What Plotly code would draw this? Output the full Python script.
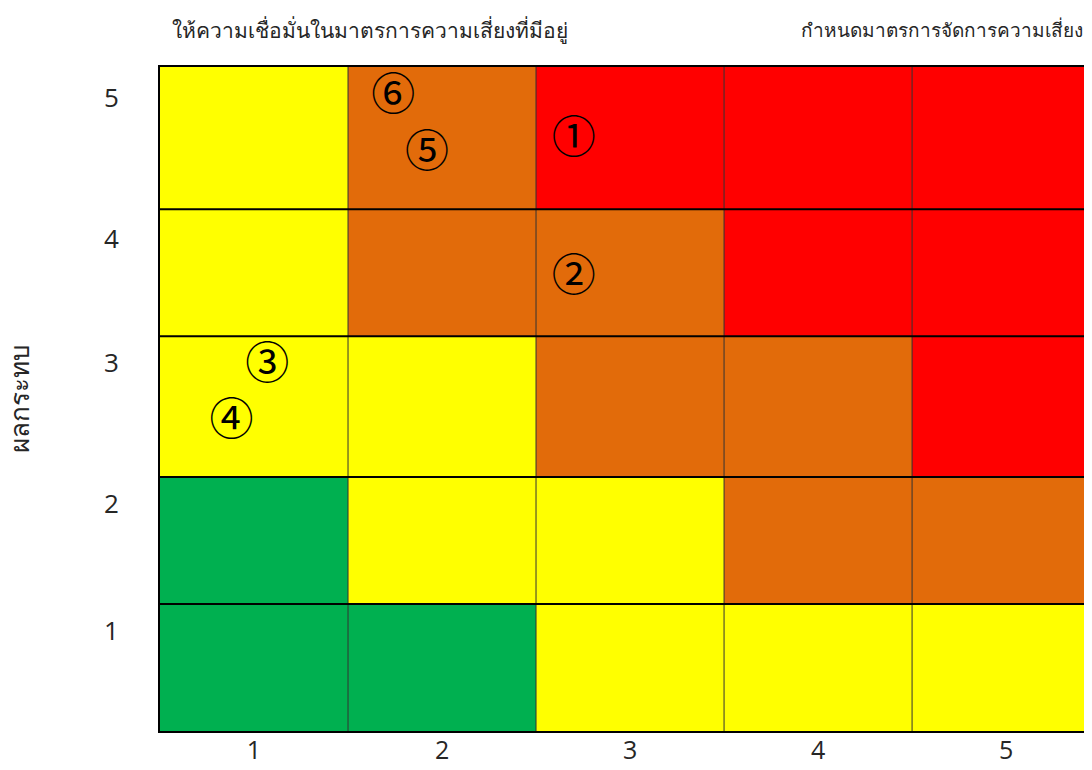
import plotly.graph_objects as go

# ---- data ----
x_edges = [0.5, 1.5, 2.5, 3.5, 4.5, 5.5]
y_edges = [0.0, 1.0, 2.0, 3.11, 4.11, 5.23]
x_ticks = [1, 2, 3, 4, 5]
x_labels = ["1", "2", "3", "4", "5"]
y_ticks = [0.79, 1.79, 2.9, 3.88, 4.99]
y_labels = ["1", "2", "3", "4", "5"]

# risk level per cell, rows from impact 1 (bottom) to 5 (top)
# 0 = green, 1 = yellow, 2 = orange, 3 = red
risk_levels = [
    [0, 0, 1, 1, 1],
    [0, 1, 1, 2, 2],
    [1, 1, 2, 2, 3],
    [1, 2, 2, 3, 3],
    [1, 2, 3, 3, 3],
]
level_colors = ["#00B050", "#FFFF00", "#E26B0A", "#FF0000"]

risk_labels = ["①", "②", "③", "④", "⑤", "⑥"]
risk_x = [2.70, 2.70, 1.07, 0.88, 1.92, 1.74]
risk_y = [4.64, 3.55, 2.86, 2.42, 4.53, 4.98]

title_left = "ให้ความเชื่อมั่นในมาตรการความเสี่ยงที่มีอยู่"
title_right = "กำหนดมาตรการจัดการความเสี่ยง"
y_title = "ผลกระทบ"

# ---- figure ----
n = len(level_colors)
colorscale = []
for i, c in enumerate(level_colors):
    colorscale.append([i / n, c])
    colorscale.append([(i + 1) / n, c])

fig = go.Figure()
fig.add_trace(go.Heatmap(
    x=x_edges, y=y_edges, z=risk_levels,
    colorscale=colorscale, zmin=-0.5, zmax=n - 0.5,
    showscale=False, hoverinfo="skip",
))

fig.add_trace(go.Scatter(
    x=risk_x, y=risk_y, mode="text", text=risk_labels,
    textfont=dict(size=44, color="black", family="Noto Sans CJK JP"),
    hoverinfo="skip", showlegend=False,
))

x_range = [0.5, 5.457]
y_range = [y_edges[0], y_edges[-1]]

shapes = []
for xv in x_edges[1:-1]:
    shapes.append(dict(type="line", xref="x", yref="y", x0=xv, x1=xv,
                       y0=y_range[0], y1=y_range[1],
                       line=dict(color="#333333", width=1)))
for yv in y_edges[1:-1]:
    shapes.append(dict(type="line", xref="x", yref="y", x0=x_range[0], x1=x_range[1],
                       y0=yv, y1=yv, line=dict(color="black", width=2)))

tick_font = dict(family="Open Sans, Noto Sans, sans-serif", size=26, color="#262626")
xtick_font = dict(family="Open Sans, Noto Sans, sans-serif", size=25, color="#262626")
title_font_l = dict(family="Tahoma, Noto Sans, sans-serif", size=21, color="#262626")
title_font_r = dict(family="Tahoma, Noto Sans, sans-serif", size=19, color="#262626")
ytitle_font = dict(family="Tahoma, Noto Sans, sans-serif", size=26, color="#262626")

fig.update_layout(
    width=1084, height=754,
    margin=dict(l=152, r=0, t=59, b=31),
    paper_bgcolor="white", plot_bgcolor="white",
    shapes=shapes,
    showlegend=False,
    xaxis=dict(range=x_range, tickmode="array", tickvals=x_ticks, ticktext=x_labels,
               showgrid=False, zeroline=False, showline=True, linecolor="black",
               linewidth=2, mirror=True, ticks="", ticklabelstandoff=-4,
               tickfont=xtick_font, fixedrange=True, automargin=False),
    yaxis=dict(range=y_range, tickmode="array", tickvals=y_ticks, ticktext=y_labels,
               showgrid=False, zeroline=False, showline=True, linecolor="black",
               linewidth=2, ticks="outside", ticklen=34,
               tickcolor="rgba(0,0,0,0)", tickfont=tick_font, fixedrange=True,
               automargin=False),
    annotations=[
        dict(text=title_left, xref="paper", yref="paper", x=0.0107, y=1.056,
             xanchor="left", yanchor="middle", showarrow=False, font=title_font_l),
        dict(text=title_right, xref="paper", yref="paper", x=0.9925, y=1.056,
             xanchor="right", yanchor="middle", showarrow=False, font=title_font_r),
        dict(text=y_title, xref="paper", yref="paper", x=-0.151, y=0.5,
             xanchor="center", yanchor="middle", showarrow=False, textangle=-90,
             font=ytitle_font),
    ],
)

fig.write_html("out.html")
